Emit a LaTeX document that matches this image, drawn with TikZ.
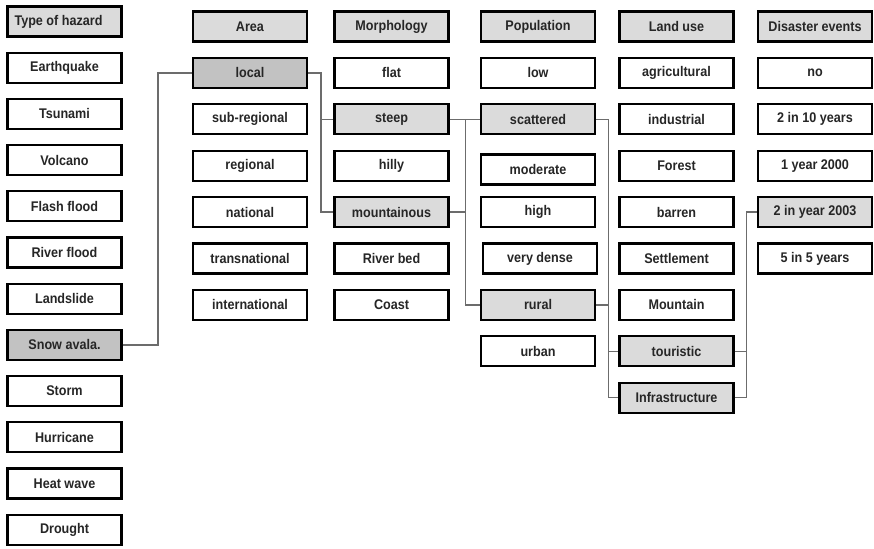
\documentclass[tikz,border=0pt]{standalone}
\usepackage{fontspec}
\setmainfont{Liberation Sans}[FakeStretch=0.9]
\begin{document}
\begin{tikzpicture}[x=1pt,y=-1pt,
  box/.style={draw=black, line width=2.3pt, minimum width=114pt, minimum height=30pt, inner sep=0pt,
    font=\fontsize{14}{16}\selectfont\bfseries, text=black!85, fill=white},
  hdr/.style={box, fill=gray!28},
  sel/.style={box, fill=gray!28},
  seld/.style={box, fill=gray!48},
  con/.style={draw=gray!85!black, line width=1.3pt}]
\useasboundingbox (0,0) rectangle (874,548);
% column 1
\node[hdr] (h0) at (64.5,21.5) {Type of hazard\hspace*{12pt}};
\node[box] (h1) at (64.5,67.7) {Earthquake};
\node[box] (h2) at (64.5,113.9) {Tsunami};
\node[box] (h3) at (64.5,160.1) {Volcano};
\node[box] (h4) at (64.5,206.3) {Flash flood};
\node[box] (h5) at (64.5,252.5) {River flood};
\node[box] (h6) at (64.5,298.7) {Landslide};
\node[seld] (snow) at (64.5,344.9) {Snow avala.};
\node[box] (h8) at (64.5,391.1) {Storm};
\node[box] (h9) at (64.5,437.3) {Hurricane};
\node[box] (h10) at (64.5,483.5) {Heat wave};
\node[box] (h11) at (64.5,529.7) {Drought};
% column 2
\node[hdr] (a0) at (250,26.5) {Area};
\node[seld] (local) at (250,72.9) {local};
\node[box] (a2) at (250,119.3) {sub-regional};
\node[box] (a3) at (250,165.7) {regional};
\node[box] (a4) at (250,212.1) {national};
\node[box] (a5) at (250,258.5) {transnational};
\node[box] (a6) at (250,304.9) {international};
% column 3
\node[hdr] (m0) at (391.5,26.5) {Morphology};
\node[box] (m1) at (391.5,72.9) {flat};
\node[sel] (steep) at (391.5,119.3) {steep};
\node[box] (m3) at (391.5,165.7) {hilly};
\node[sel] (mount) at (391.5,212.1) {mountainous};
\node[box] (m5) at (391.5,258.5) {River bed};
\node[box] (m6) at (391.5,304.9) {Coast};
% column 4
\node[hdr] (p0) at (538,26.5) {Population};
\node[box] (p1) at (538,72.9) {low};
\node[sel] (scat) at (538,119.3) {scattered};
\node[box] (p3) at (538,169.5) {moderate};
\node[box] (p4) at (538,212.1) {high};
\node[box] (p5) at (540,258.5) {very dense};
\node[sel] (rural) at (538,304.9) {rural};
\node[box] (p7) at (538,351.3) {urban};
% column 5
\node[hdr] (l0) at (676.5,26.5) {Land use};
\node[box] (l1) at (676.5,72.9) {agricultural};
\node[box] (l2) at (676.5,119.3) {industrial};
\node[box] (l3) at (676.5,165.7) {Forest};
\node[box] (l4) at (676.5,212.1) {barren};
\node[box] (l5) at (676.5,258.5) {Settlement};
\node[box] (l6) at (676.5,304.9) {Mountain};
\node[sel] (tour) at (676.5,351.3) {touristic};
\node[sel] (infra) at (676.5,397.7) {Infrastructure};
% column 6
\node[hdr] (d0) at (815,26.5) {Disaster events};
\node[box] (d1) at (815,72.9) {no};
\node[box] (d2) at (815,119.3) {2 in 10 years};
\node[box] (d3) at (815,165.7) {1 year 2000};
\node[sel] (y2003) at (815,212.1) {2 in year 2003};
\node[box] (d5) at (815,258.5) {5 in 5 years};
% connectors
\coordinate (v1) at ([xshift=-34pt]local.west);
\coordinate (v2) at ([xshift=-12.5pt]steep.west);
\coordinate (v3) at ([xshift=15.5pt]steep.east);
\coordinate (v4) at ([xshift=12pt]scat.east);
\coordinate (v5) at ([xshift=11.5pt]tour.east);
\draw[con] (snow.east) -| (v1) -- (local.west);
\draw[con] (local.east) -| (v2) -- (steep.west);
\draw[con] (v2) |- (mount.west);
\draw[con] (steep.east) -- (scat.west);
\draw[con] (v3) |- (rural.west);
\draw[con] (mount.east) -- (mount.east -| v3);
\draw[con] (scat.east) -- (v4) |- (infra.west);
\draw[con] (v4 |- tour.west) -- (tour.west);
\draw[con] (rural.east) -- (rural.east -| v4);
\draw[con] (infra.east) -| (v5) |- (y2003.west);
\draw[con] (tour.east) -- (v5);
\end{tikzpicture}
\end{document}
